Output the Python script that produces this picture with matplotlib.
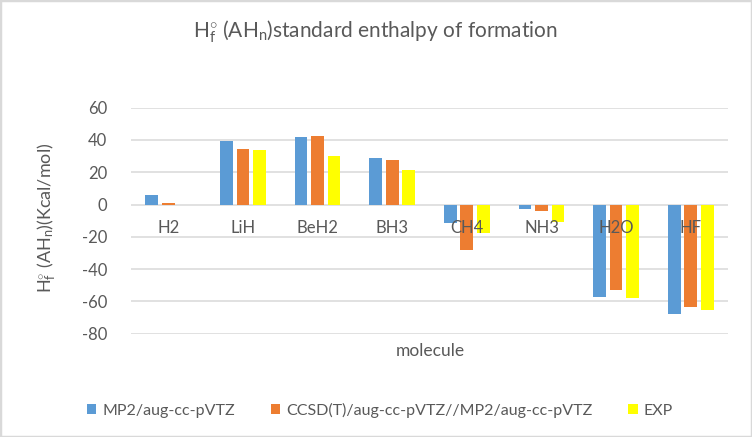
import numpy as np
import matplotlib
matplotlib.use("Agg")
import matplotlib.pyplot as plt
from matplotlib.patches import Rectangle
from matplotlib.transforms import ScaledTranslation

molecules = ["H2", "LiH", "BeH2", "BH3", "CH4", "NH3", "H2O", "HF"]
mp2 = [5.8, 39.5, 41.8, 28.8, -11.6, -2.5, -57.1, -67.6]
ccsd = [0.8, 34.5, 42.4, 27.5, -28.3, -3.7, -52.8, -63.3]
exp = [0.0, 33.7, 30.2, 21.1, -17.6, -10.6, -57.8, -65.1]
series_names = ["MP2/aug-cc-pVTZ", "CCSD(T)/aug-cc-pVTZ//MP2/aug-cc-pVTZ", "EXP"]
colors = ["#5B9BD5", "#ED7D31", "#FFFF00"]
yticks = [-80, -60, -40, -20, 0, 20, 40, 60]

plt.rcParams["font.family"] = ["Lato", "DejaVu Sans"]
plt.rcParams["mathtext.fontset"] = "custom"
plt.rcParams["mathtext.rm"] = "Lato"
plt.rcParams["mathtext.it"] = "Lato:italic"
txt = "#595959"
grid_c = "#D9D9D9"

fig = plt.figure(figsize=(7.52, 4.37), dpi=100)
ax = fig.add_axes([131 / 752, 1 - 333.7 / 437, 597 / 752, (333.7 - 107.7) / 437])

x = np.arange(len(molecules))
w = 0.17
step = 0.221
for k, (vals, name, c) in enumerate(zip([mp2, ccsd, exp], series_names, colors)):
    ax.bar(x + (k - 1) * step, vals, width=w, color=c, label=name, zorder=2)

ax.set_xlim(-0.5, len(molecules) - 0.5)
ax.set_ylim(-80, 60)
ax.set_yticks(yticks)
ax.set_yticklabels([str(t) for t in yticks])
ax.set_xticks([])
ax.grid(axis="y", color=grid_c, linewidth=1.1, zorder=0)
ax.set_axisbelow(True)
for s in ax.spines.values():
    s.set_visible(False)
ax.tick_params(axis="y", length=0, pad=17, labelsize=12, labelcolor=txt)

# category labels sit just under the zero line, like Excel
off = ScaledTranslation(0, -0.23, fig.dpi_scale_trans)
for i, m in enumerate(molecules):
    ax.text(i, 0, m, ha="center", va="center", fontsize=12, color=txt,
            transform=ax.transData + off, zorder=5)

fig.text(430 / 752, 1 - 350.5 / 437, "molecule", ha="center", va="center",
         fontsize=12.5, color=txt)
fig.text(47 / 752, 1 - 218 / 437, r"H$^{\circ}_{\mathrm{f}}$ (AH$_{\mathrm{n}}$)(Kcal/mol)",
         rotation=90, ha="center", va="center", fontsize=13, color=txt)
fig.text(375.5 / 752, 1 - 32 / 437,
         r"H$^{\circ}_{\mathrm{f}}$ (AH$_{\mathrm{n}}$)standard enthalpy of formation",
         ha="center", va="center", fontsize=15, color=txt)

fig.legend(loc="center", bbox_to_anchor=(380 / 752, 1 - 410 / 437), ncol=3,
           frameon=False, fontsize=11.5, labelcolor=txt, handlelength=0.6,
           handleheight=0.6, handletextpad=0.4, columnspacing=2.2)

fig.patches.append(Rectangle((0, 0), 1, 1, transform=fig.transFigure, fill=False,
                             edgecolor=grid_c, linewidth=2.5))

fig.savefig("out.png", dpi=100, facecolor="white")
